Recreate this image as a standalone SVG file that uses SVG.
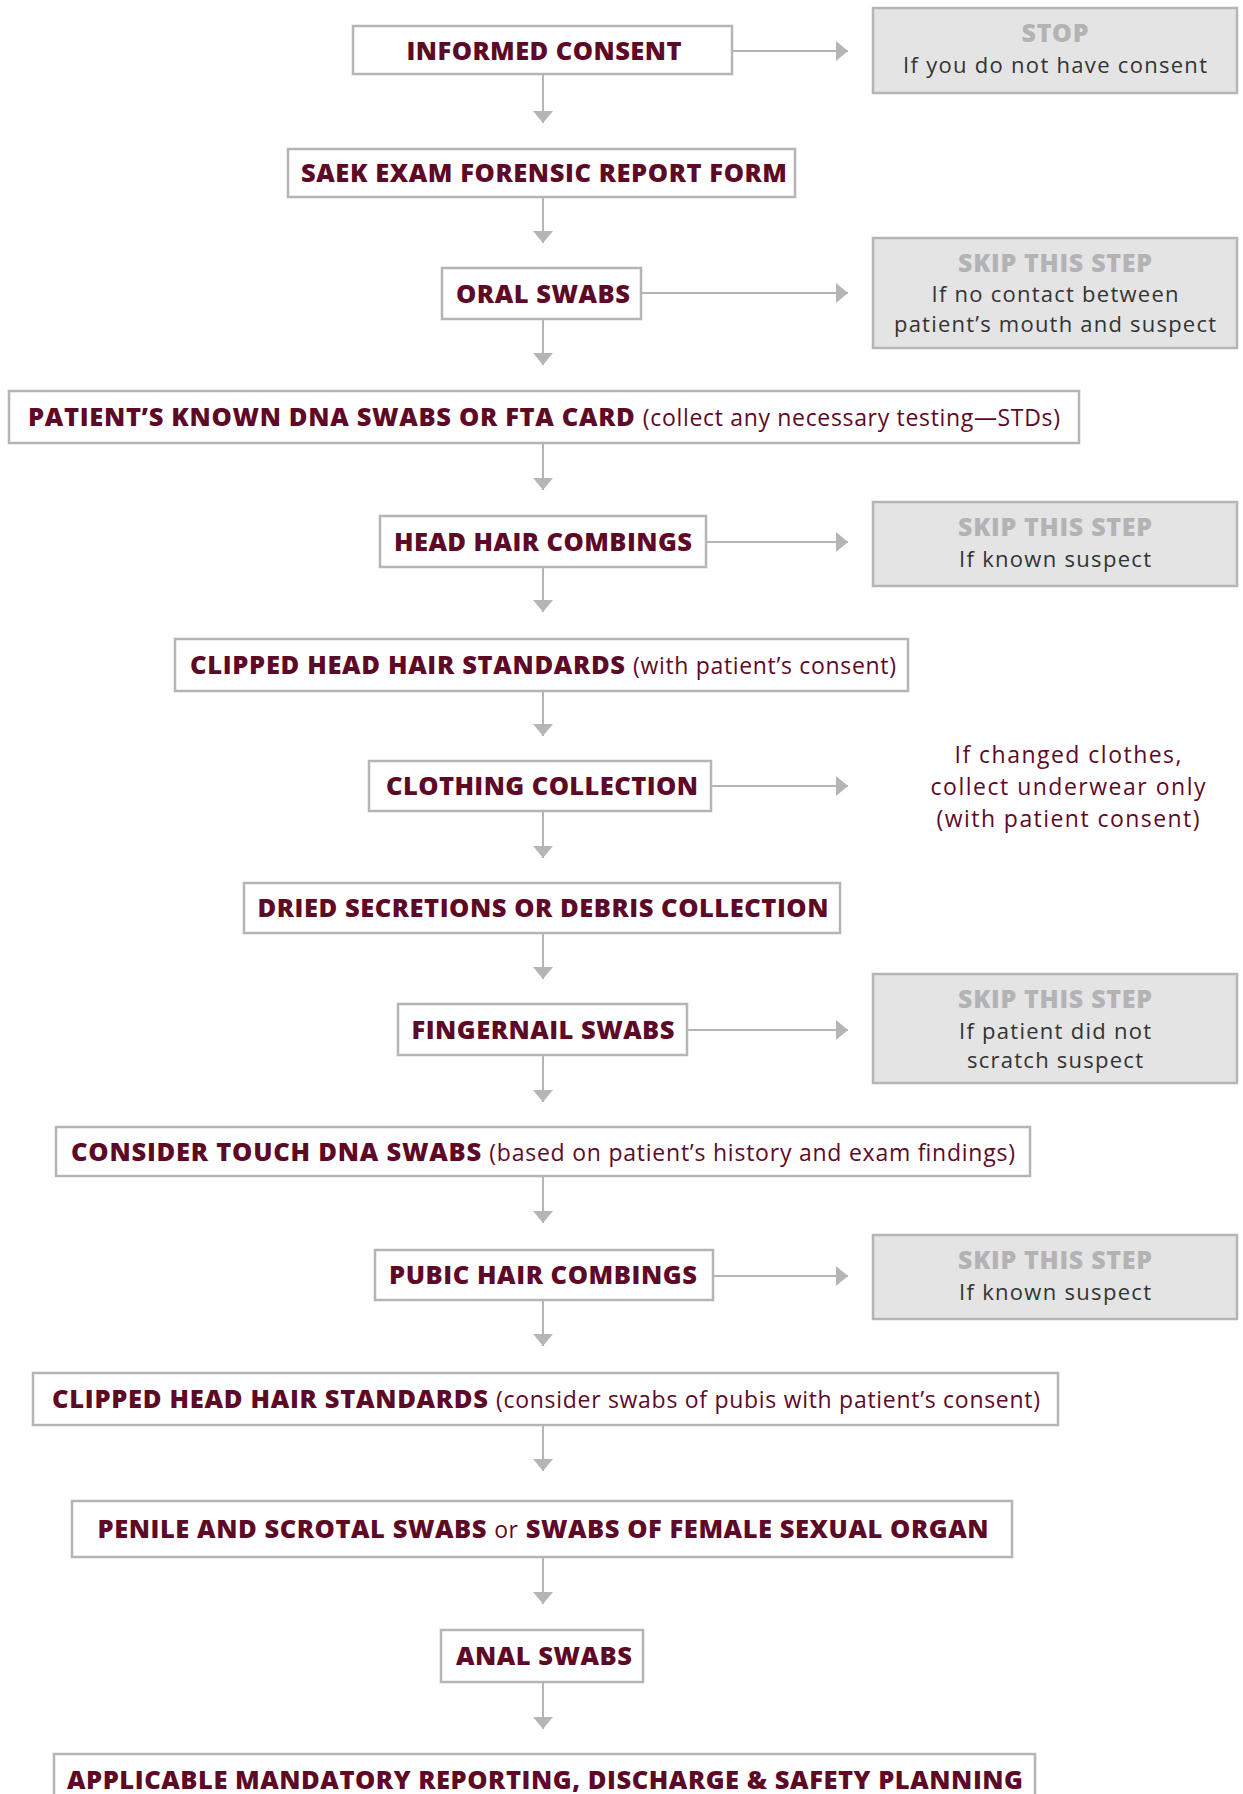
<svg xmlns="http://www.w3.org/2000/svg" width="1243" height="1794" viewBox="0 0 1243 1794">
<style>
.box{fill:#ffffff;stroke:#b5b5b8;stroke-width:2.5}
.gbox{fill:#e4e4e4;stroke:#b5b5b8;stroke-width:2.5}
.t{font-family:"Open Sans","Liberation Sans",sans-serif;font-weight:800;font-size:25.5px;fill:#5e0a27;text-anchor:middle}
.r{font-weight:400;font-size:23px}
.h{font-family:"Open Sans","Liberation Sans",sans-serif;font-weight:800;font-size:25px;fill:#b3b3b6;text-anchor:middle}
.g{font-family:"Open Sans","Liberation Sans",sans-serif;font-weight:400;font-size:22px;fill:#333333;text-anchor:middle}
.s{font-family:"Open Sans","Liberation Sans",sans-serif;font-weight:400;font-size:23px;fill:#5e0a27;text-anchor:middle}
.c{stroke:#b5b5b8;stroke-width:2;fill:none;marker-end:url(#ah)}
</style>
<defs>
<marker id="ah" markerUnits="userSpaceOnUse" viewBox="0 0 12 20" refX="12" refY="10" markerWidth="12" markerHeight="20" orient="auto">
<path d="M0,0 L12,10 L0,20 z" fill="#b5b5b8"/>
</marker>
</defs>
<g id="connectors">
<line class="c" x1="543" y1="74" x2="543" y2="123"/>
<line class="c" x1="543" y1="197" x2="543" y2="243"/>
<line class="c" x1="543" y1="319" x2="543" y2="365"/>
<line class="c" x1="543" y1="443" x2="543" y2="490"/>
<line class="c" x1="543" y1="567" x2="543" y2="612"/>
<line class="c" x1="543" y1="691" x2="543" y2="736"/>
<line class="c" x1="543" y1="811" x2="543" y2="858"/>
<line class="c" x1="543" y1="933" x2="543" y2="979"/>
<line class="c" x1="543" y1="1055" x2="543" y2="1102"/>
<line class="c" x1="543" y1="1176" x2="543" y2="1223"/>
<line class="c" x1="543" y1="1300" x2="543" y2="1346"/>
<line class="c" x1="543" y1="1425" x2="543" y2="1471"/>
<line class="c" x1="543" y1="1557" x2="543" y2="1604"/>
<line class="c" x1="543" y1="1682" x2="543" y2="1729"/>
<line class="c" x1="732" y1="51" x2="848" y2="51"/>
<line class="c" x1="641" y1="293" x2="848" y2="293"/>
<line class="c" x1="706" y1="542" x2="848" y2="542"/>
<line class="c" x1="711" y1="786" x2="848" y2="786"/>
<line class="c" x1="687" y1="1030" x2="848" y2="1030"/>
<line class="c" x1="713" y1="1276" x2="848" y2="1276"/>
</g>
<g id="n1"><rect class="box" x="353" y="26" width="379" height="48"/><text class="t" x="544" y="60" textLength="275" lengthAdjust="spacing">INFORMED CONSENT</text></g>
<g id="stop"><rect class="gbox" x="873" y="8" width="364" height="85"/><text class="h" x="1055" y="42" textLength="67" lengthAdjust="spacing">STOP</text><text class="g" x="1055" y="73" textLength="304" lengthAdjust="spacing">If you do not have consent</text></g>
<g id="n2"><rect class="box" x="288" y="149" width="507" height="48"/><text class="t" x="544" y="182" textLength="486" lengthAdjust="spacing">SAEK EXAM FORENSIC REPORT FORM</text></g>
<g id="n3"><rect class="box" x="442" y="268" width="199" height="51"/><text class="t" x="543" y="303" textLength="174" lengthAdjust="spacing">ORAL SWABS</text></g>
<g id="skip1"><rect class="gbox" x="873" y="238" width="364" height="110"/><text class="h" x="1055" y="272" textLength="194" lengthAdjust="spacing">SKIP THIS STEP</text><text class="g" x="1055" y="302" textLength="247" lengthAdjust="spacing">If no contact between</text><text class="g" x="1055" y="332" textLength="322" lengthAdjust="spacing">patient’s mouth and suspect</text></g>
<g id="n4"><rect class="box" x="9" y="391" width="1070" height="52"/><text class="t" x="544" y="426" textLength="1032" lengthAdjust="spacing">PATIENT’S KNOWN DNA SWABS OR FTA CARD <tspan class="r">(collect any necessary testing—STDs)</tspan></text></g>
<g id="n5"><rect class="box" x="380" y="516" width="326" height="51"/><text class="t" x="543" y="551" textLength="298" lengthAdjust="spacing">HEAD HAIR COMBINGS</text></g>
<g id="skip2"><rect class="gbox" x="873" y="502" width="364" height="84"/><text class="h" x="1055" y="536" textLength="194" lengthAdjust="spacing">SKIP THIS STEP</text><text class="g" x="1055" y="567" textLength="192" lengthAdjust="spacing">If known suspect</text></g>
<g id="n6"><rect class="box" x="175" y="639" width="733" height="52"/><text class="t" x="543" y="674" textLength="706" lengthAdjust="spacing">CLIPPED HEAD HAIR STANDARDS <tspan class="r">(with patient’s consent)</tspan></text></g>
<g id="n7"><rect class="box" x="369" y="761" width="342" height="50"/><text class="t" x="542" y="795" textLength="312" lengthAdjust="spacing">CLOTHING COLLECTION</text></g>
<g id="note"><text class="s" x="1068" y="763" textLength="227" lengthAdjust="spacing">If changed clothes,</text><text class="s" x="1068" y="795" textLength="275" lengthAdjust="spacing">collect underwear only</text><text class="s" x="1068" y="827" textLength="263" lengthAdjust="spacing">(with patient consent)</text></g>
<g id="n8"><rect class="box" x="244" y="883" width="596" height="50"/><text class="t" x="543" y="917" textLength="571" lengthAdjust="spacing">DRIED SECRETIONS OR DEBRIS COLLECTION</text></g>
<g id="n9"><rect class="box" x="398" y="1004" width="289" height="51"/><text class="t" x="543" y="1039" textLength="263" lengthAdjust="spacing">FINGERNAIL SWABS</text></g>
<g id="skip3"><rect class="gbox" x="873" y="974" width="364" height="109"/><text class="h" x="1055" y="1008" textLength="194" lengthAdjust="spacing">SKIP THIS STEP</text><text class="g" x="1055" y="1039" textLength="192" lengthAdjust="spacing">If patient did not</text><text class="g" x="1055" y="1068" textLength="176" lengthAdjust="spacing">scratch suspect</text></g>
<g id="n10"><rect class="box" x="56" y="1127" width="974" height="49"/><text class="t" x="543" y="1161" textLength="944" lengthAdjust="spacing">CONSIDER TOUCH DNA SWABS <tspan class="r">(based on patient’s history and exam findings)</tspan></text></g>
<g id="n11"><rect class="box" x="375" y="1250" width="338" height="50"/><text class="t" x="543" y="1284" textLength="308" lengthAdjust="spacing">PUBIC HAIR COMBINGS</text></g>
<g id="skip4"><rect class="gbox" x="873" y="1235" width="364" height="84"/><text class="h" x="1055" y="1269" textLength="194" lengthAdjust="spacing">SKIP THIS STEP</text><text class="g" x="1055" y="1300" textLength="192" lengthAdjust="spacing">If known suspect</text></g>
<g id="n12"><rect class="box" x="33" y="1373" width="1025" height="52"/><text class="t" x="546" y="1408" textLength="988" lengthAdjust="spacing">CLIPPED HEAD HAIR STANDARDS <tspan class="r">(consider swabs of pubis with patient’s consent)</tspan></text></g>
<g id="n13"><rect class="box" x="72" y="1501" width="940" height="56"/><text class="t" x="543" y="1538" textLength="891" lengthAdjust="spacing">PENILE AND SCROTAL SWABS <tspan class="r">or</tspan> SWABS OF FEMALE SEXUAL ORGAN</text></g>
<g id="n14"><rect class="box" x="441" y="1630" width="202" height="52"/><text class="t" x="544" y="1665" textLength="176" lengthAdjust="spacing">ANAL SWABS</text></g>
<g id="n15"><rect class="box" x="54" y="1754" width="981" height="60"/><text class="t" x="545" y="1789" textLength="956" lengthAdjust="spacing">APPLICABLE MANDATORY REPORTING, DISCHARGE &amp; SAFETY PLANNING</text></g>
</svg>
